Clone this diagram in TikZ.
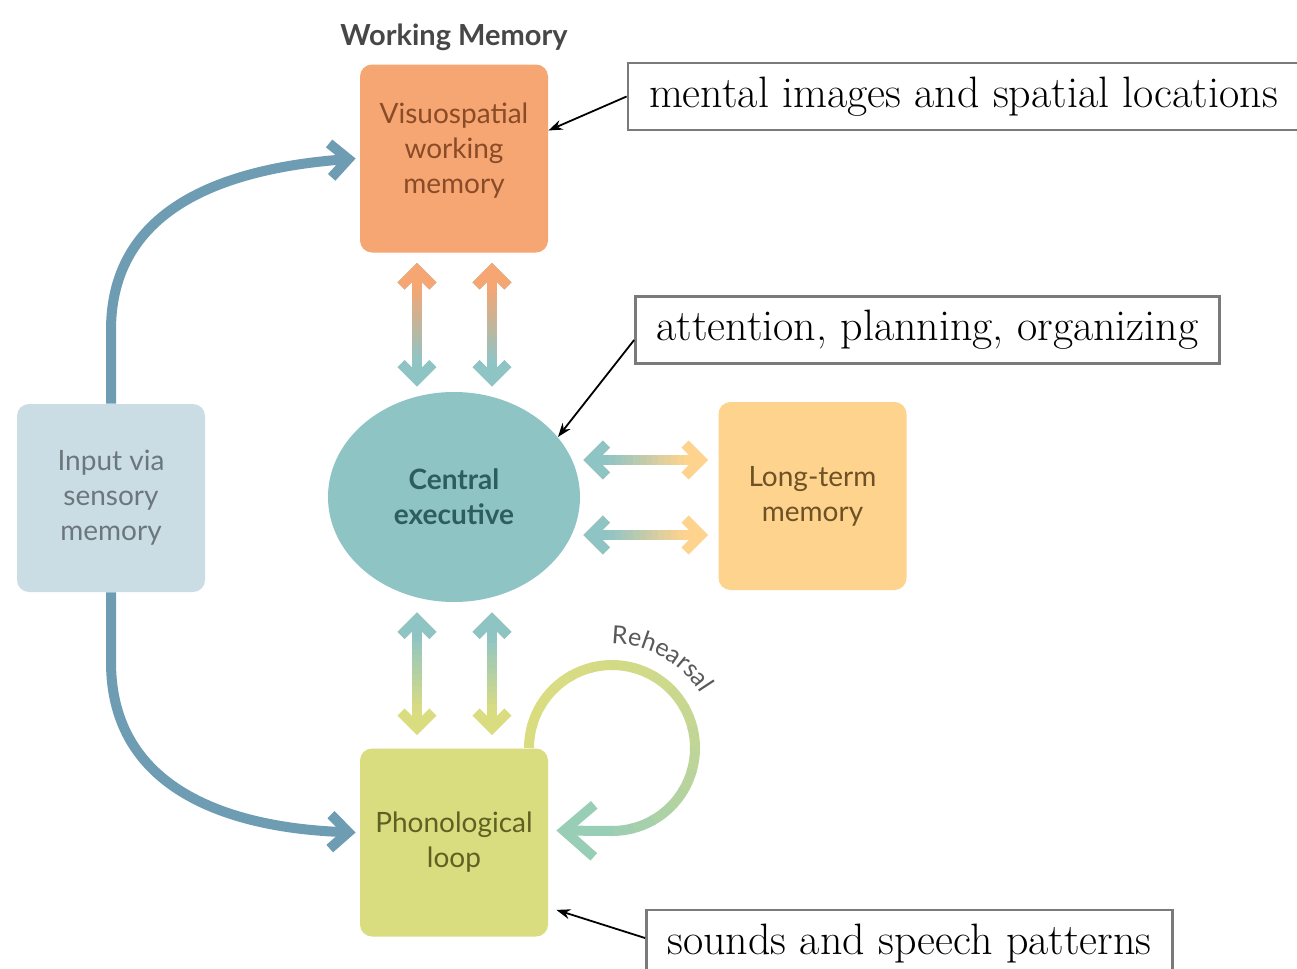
\documentclass[tikz,border=0pt]{standalone}
\usepackage{fontspec}
\newfontfamily\diagfont{Lato}
\newfontfamily\loopfont[LetterSpace=8]{Lato}
\usetikzlibrary{shapes.geometric,arrows.meta,calc,decorations.text}

\definecolor{visorange}{HTML}{F5A673}
\definecolor{visink}{HTML}{8A4B26}
\definecolor{execteal}{HTML}{8FC4C5}
\definecolor{execink}{HTML}{2E5D5E}
\definecolor{ltmyellow}{HTML}{FDD38E}
\definecolor{ltmink}{HTML}{6E5124}
\definecolor{inputblue}{HTML}{CADDE5}
\definecolor{inputink}{HTML}{6C777D}
\definecolor{phonyellow}{HTML}{DADC80}
\definecolor{phonink}{HTML}{5F6122}
\definecolor{flowblue}{HTML}{6E9CB3}
\definecolor{loopgreen}{HTML}{98CDB6}
\definecolor{notegray}{HTML}{7A7A7A}

\tikzset{
  memory/.style={rectangle, rounded corners=6pt, minimum width=94pt,
    minimum height=94pt, inner sep=2pt, align=center,
    font=\diagfont\fontsize{14}{17.5}\selectfont},
  note/.style={draw=notegray, line width=1.4pt, fill=white, inner xsep=10.5pt,
    minimum height=33.5pt, font=\fontsize{22}{26}\selectfont},
  thick link/.style={line width=5pt},
  chevron/.style={-{Straight Barb[length=9pt,width=17pt]}},
  pointer/.style={line width=0.9pt, -{Stealth[length=7pt,width=5pt]}},
}

% double arrow whose colour runs from #3 (at #1) to #4 (at #2)
\newcommand\twoway[4]{%
  \draw[thick link, #4, {Straight Barb[length=8pt,width=16pt]}-{Straight Barb[length=8pt,width=16pt]}] (#1) -- (#2);
  \draw[thick link, #3, {Straight Barb[length=8pt,width=16pt]}-] (#1) -- ($(#1)!0.5!(#2)$);
  \foreach \k in {0,...,11}{%
    \pgfmathsetmacro\ta{0.2+0.05*\k}%
    \pgfmathsetmacro\tb{0.26+0.05*\k}%
    \pgfmathsetmacro\mix{100-100*(\k+0.5)/12}%
    \draw[line width=5pt, #3!\mix!#4] ($(#1)!\ta!(#2)$) -- ($(#1)!\tb!(#2)$);
  }%
}

\begin{document}
\begin{tikzpicture}[x=0.5pt, y=-0.5pt]
  \path[use as bounding box, fill=white] (0,0) rectangle (1297,969);

  % the stores
  \node[font=\diagfont\bfseries\fontsize{14.5}{17}\selectfont, text=black!72] (title) at (454,37) {Working Memory};
  \node[memory, fill=visorange, text=visink, text depth=10pt] (vis) at (454,158.5) {Visuospatial\\working\\memory};
  \node[ellipse, fill=execteal, text=execink, minimum width=126pt, minimum height=105pt,
    inner sep=0pt, align=center, font=\diagfont\bfseries\fontsize{14}{17.5}\selectfont] (exec) at (454,497) {Central\\executive};
  \node[memory, fill=ltmyellow, text=ltmink] (ltm) at (812.5,496) {Long-term\\memory};
  \node[memory, fill=inputblue, text=inputink] (input) at (111,498) {Input via\\sensory\\memory};
  \node[memory, fill=phonyellow, text=phonink] (phon) at (454,842.5) {Phonological\\loop};

  % exchanges with the central executive
  \coordinate (vs1) at ([xshift=-18.5pt,yshift=-5pt]vis.south);
  \coordinate (ce1) at ([xshift=-18.5pt,yshift=2.5pt]exec.north);
  \coordinate (vs2) at ([xshift=19pt,yshift=-5pt]vis.south);
  \coordinate (ce2) at ([xshift=19pt,yshift=2.5pt]exec.north);
  \coordinate (ce3) at ([xshift=-18.5pt,yshift=-5pt]exec.south);
  \coordinate (ph1) at ([xshift=-18.5pt,yshift=6.5pt]phon.north);
  \coordinate (ce4) at ([xshift=19pt,yshift=-5pt]exec.south);
  \coordinate (ph2) at ([xshift=19pt,yshift=6.5pt]phon.north);
  \coordinate (ce5) at ([xshift=1.5pt,yshift=18.5pt]exec.east);
  \coordinate (lt1) at ([xshift=-5pt,yshift=18pt]ltm.west);
  \coordinate (ce6) at ([xshift=1.5pt,yshift=-19pt]exec.east);
  \coordinate (lt2) at ([xshift=-5pt,yshift=-19.5pt]ltm.west);
  \twoway{vs1}{ce1}{visorange}{execteal}
  \twoway{vs2}{ce2}{visorange}{execteal}
  \twoway{ce3}{ph1}{execteal}{phonyellow}
  \twoway{ce4}{ph2}{execteal}{phonyellow}
  \twoway{ce5}{lt1}{execteal}{ltmyellow}
  \twoway{ce6}{lt2}{execteal}{ltmyellow}

  % sensory input
  \draw[thick link, flowblue, chevron] (input.north) -- (111,330)
    .. controls (111,205) and (230,168) .. ([xshift=-2pt]vis.west);
  \draw[thick link, flowblue, chevron] (input.south) -- (111,662)
    .. controls (111,790) and (230,828) .. ([xshift=-2pt,yshift=5pt]phon.west);

  % rehearsal loop
  \coordinate (loopc) at (612,748);
  \coordinate (loopin) at ([xshift=4pt,yshift=6pt]phon.east);
  \foreach \a in {180,165,...,-75}{
    \pgfmathsetmacro\mix{100*((180-\a)/270)^2}
    \draw[thick link, loopgreen!\mix!phonyellow] (loopc) ++(\a:41.5pt)
      arc[start angle=\a, end angle=\a-16, radius=41.5pt];
  }
  \draw[thick link, loopgreen, -{Straight Barb[length=15pt,width=26pt]}]
    ($(loopc)+(-90:41.5pt)$) -- (loopin);
  \path[decorate, decoration={text along path, text align=center, text color=black!65,
    text={|\loopfont\fontsize{12.5}{15}\selectfont|Rehearsal}}]
    (loopc) ++(112:52pt) arc[start angle=112, end angle=10, radius=52pt];

  % notes
  \node[note] (visnote) at (963.5,96.5) {mental images and spatial locations};
  \node[note] (execnote) at (927.5,330) {attention, planning, organizing};
  \node[note] (phonnote) at (909.5,943.5) {sounds and speech patterns};
  \draw[pointer] (visnote.west) -- ([yshift=14pt]vis.east);
  \draw[pointer] ([yshift=-5pt]execnote.west) -- (exec.30);
  \draw[pointer] ([yshift=2.75pt]phonnote.west) -- ([xshift=4pt,yshift=13.5pt]phon.south east);
\end{tikzpicture}
\end{document}
